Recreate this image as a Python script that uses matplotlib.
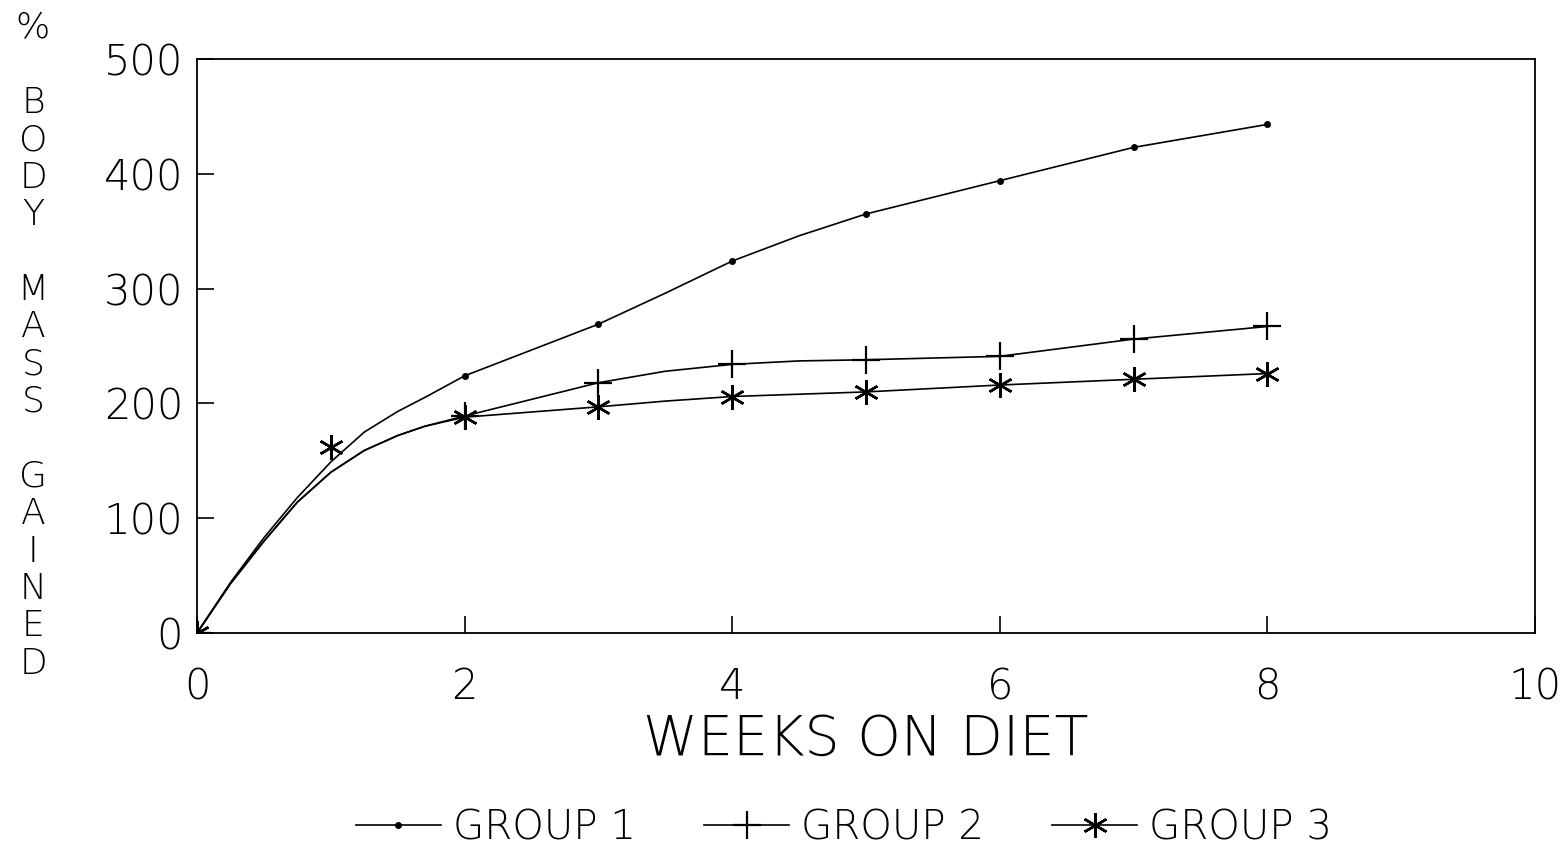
import matplotlib
matplotlib.use("Agg")
import matplotlib.pyplot as plt
from matplotlib.lines import Line2D

# observed means (markers)
weeks_g12 = [0, 2, 3, 4, 5, 6, 7, 8]
weeks_g3 = [0, 1, 2, 3, 4, 5, 6, 7, 8]
group1 = [0, 224, 269, 324, 365, 394, 423, 443]
group2 = [0, 189, 218, 234, 238, 241, 256, 267]
group3 = [0, 162, 188, 197, 206, 210, 216, 221, 226]

# fitted growth curves drawn through the markers
weeks_fit = [0, 0.25, 0.5, 0.75, 1, 1.25, 1.5, 1.7, 2, 3, 3.5, 4, 4.5, 5, 6, 7, 8]
group1_fit = [0, 44, 83, 118, 149, 175, 193, 205, 224, 269, 296, 324, 346, 365, 394, 423, 443]
group2_fit = [0, 43, 80, 114, 140, 159, 172, 180, 189, 218, 228, 234, 237, 238, 241, 256, 267]
group3_fit = [0, 43, 80, 114, 140, 159, 172, 180, 188, 197, 202, 206, 208, 210, 216, 221, 226]

x_ticks = [0, 2, 4, 6, 8, 10]
y_ticks = [0, 100, 200, 300, 400, 500]
ylabel_chars = list("%") + [""] + list("BODY") + [""] + list("MASS") + [""] + list("GAINED")

plt.rcParams['font.family'] = ['DejaVu Sans']

fig = plt.figure(figsize=(15.65, 8.5), dpi=100)
ax = fig.add_axes([0.1259, 0.2553, 0.8549, 0.6753])

lw = 1.2
ax.plot(weeks_fit, group1_fit, color='black', lw=lw)
ax.plot(weeks_fit, group2_fit, color='black', lw=lw)
ax.plot(weeks_fit, group3_fit, color='black', lw=lw)
ax.plot(weeks_g12, group1, ls='none', marker='o', ms=4, color='black')
ax.plot(weeks_g12, group2, ls='none', marker='+', ms=20, mew=1.6, color='black')
ax.plot(weeks_g3, group3, ls='none', marker=(6, 2, 0), ms=18, mew=1.8, color='black')

ax.set_xlim(0, 10)
ax.set_ylim(0, 500)
ax.set_xticks(x_ticks)
ax.set_yticks(y_ticks)
ax.tick_params(direction='in', length=12, width=1.2, labelsize=30)
ax.tick_params(axis='x', pad=24)
ax.tick_params(axis='y', pad=10)
for lab in ax.get_xticklabels() + ax.get_yticklabels():
    lab.set_fontweight('light')
for sp in ax.spines.values():
    sp.set_linewidth(1.3)

ax.set_xlabel('WEEKS ON DIET', fontsize=40, fontweight='light', labelpad=4)

# vertical stacked y-axis title
top, step = 1 - 28 / 850, 37.4 / 850
for i, ch in enumerate(ylabel_chars):
    if ch:
        fig.text(33 / 1565, top - i * step, ch, fontsize=26, ha='center', va='center',
                 fontweight='light')

handles = [
    Line2D([], [], color='black', lw=lw, marker='o', ms=4),
    Line2D([], [], color='black', lw=lw, marker='+', ms=20, mew=1.6),
    Line2D([], [], color='black', lw=lw, marker=(6, 2, 0), ms=18, mew=1.8),
]
leg = fig.legend(handles, ['GROUP 1', 'GROUP 2', 'GROUP 3'], loc='center',
                 bbox_to_anchor=(844 / 1565, 1 - 828 / 850), ncol=3, frameon=False,
                 prop={'size': 29, 'weight': 'light'},
                 handlelength=2.1, handletextpad=0.3, columnspacing=1.7)

fig.savefig('out.png', dpi=100)
